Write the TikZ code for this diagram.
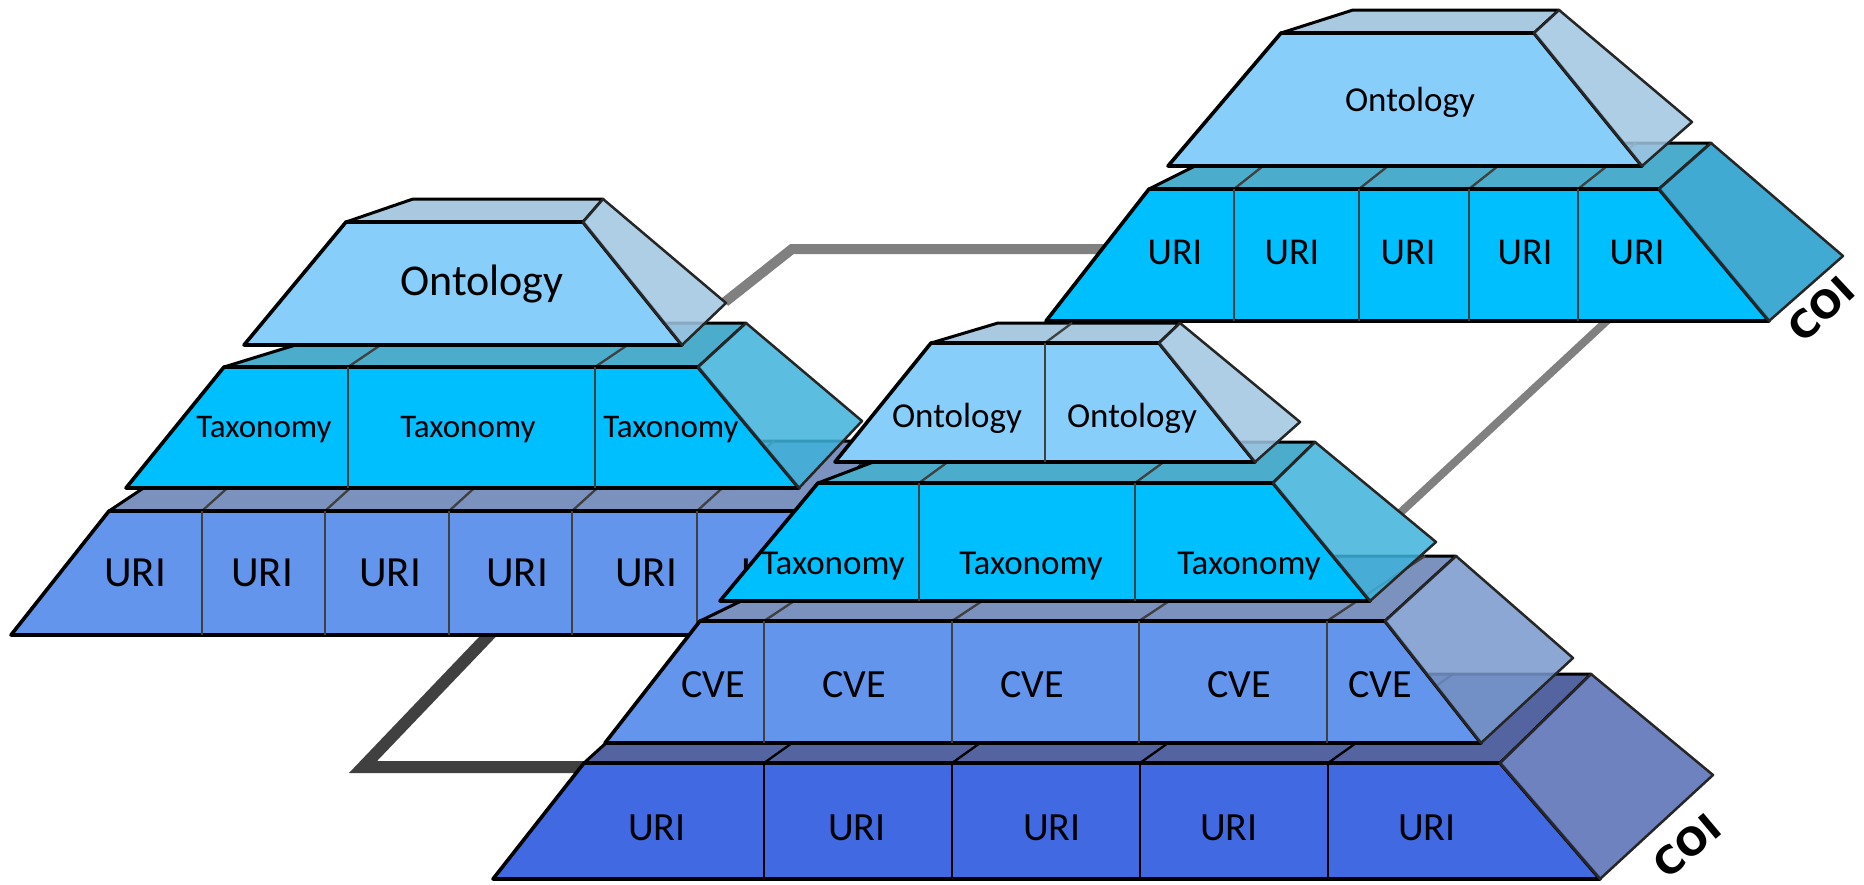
\documentclass[tikz,border=0pt]{standalone}
\usepackage{fontspec}
\setmainfont{Carlito}
\newfontfamily\coifont{DejaVu Sans}
% layer colours: F = front, T = top face, S = side face
\definecolor{ontF}{RGB}{135,206,250}
\definecolor{ontT}{RGB}{168,201,224}
\definecolor{ontS}{RGB}{160,197,226}
\definecolor{skyF}{RGB}{0,191,255}
\definecolor{skyT}{RGB}{75,172,204}
\definecolor{skyS}{RGB}{62,179,219}
\definecolor{skySd}{RGB}{31,155,202}
\definecolor{cvF}{RGB}{100,149,237}
\definecolor{cvT}{RGB}{123,145,190}
\definecolor{cvS}{RGB}{120,152,205}
\definecolor{roF}{RGB}{65,105,225}
\definecolor{roT}{RGB}{84,100,160}
\definecolor{roS}{RGB}{85,108,181}
\definecolor{linkgray}{RGB}{128,128,128}
\definecolor{linkdark}{RGB}{64,64,64}
\begin{document}
\begin{tikzpicture}[x=1pt,y=-1pt,
  frontface/.style={fill=#1,draw=black,line width=3.6pt,line join=round},
  topface/.style={fill=#1,draw=black,line width=3pt,line join=round},
  sideface/.style={fill=#1,fill opacity=0.85,draw=black!85,line width=2.5pt,line join=round},
  divline/.style={draw=black!75,line width=2.3pt},
  lbl/.style={anchor=base,inner sep=0pt,font=\fontsize{#1}{#1}\selectfont},
  coi/.style={inner sep=0pt,font=\coifont\bfseries\fontsize{38}{38}\selectfont},
  link/.style={draw=linkgray,line width=10pt,line join=miter},
  darklink/.style={draw=linkdark,line width=12pt,line join=miter}]
\useasboundingbox (0,0) rectangle (1864,884);

% ---------- connectors (behind the pyramids) ----------
\coordinate (l1a) at (725,302);
\coordinate (l1k) at (792,249);
\coordinate (l1c) at (1112,249);
\draw[link] (l1a) -- (l1k) -- (l1c);
\coordinate (l2c) at (1612,316);
\coordinate (l2b) at (1400,513);
\draw[link,line width=8pt] (l2c) -- (l2b);
\coordinate (l3a) at (494,630);
\coordinate (l3k) at (363,767);
\coordinate (l3b) at (594,767);
\draw[darklink] (l3a) -- (l3k) -- (l3b);

% ================= left pyramid =================
% URI layer
\path[topface=cvT] (109,511) -- (214,441) -- (885,441) -- (815,511) -- cycle;
\foreach \x in {202,325,449,572,697} \draw[divline] (\x,511) -- ++(77,-70);
\path[frontface=cvF] (109,511) -- (815,511) -- (915,635) -- (11,635) -- cycle;
\foreach \x in {202,325,449,572,697} \draw[divline] (\x,511) -- (\x,635);
\path[sideface=cvS] (815,511) -- (885,441) -- (990,560) -- (915,635) -- cycle;
\node[lbl=43] (auri1) at (135,586) {URI};
\node[lbl=43] (auri2) at (262,586) {URI};
\node[lbl=43] (auri3) at (390,586) {URI};
\node[lbl=43] (auri4) at (517,586) {URI};
\node[lbl=43] (auri5) at (646,586) {URI};
\node[lbl=43] (auri6) at (772,586) {URI};
% Taxonomy layer
\path[topface=skyT] (224,367) -- (367,323) -- (746,323) -- (698,367) -- cycle;
\foreach \x in {348,595} \draw[divline] (\x,367) -- ++(65,-44);
\path[frontface=skyF] (224,367) -- (698,367) -- (799,488) -- (126,488) -- cycle;
\foreach \x in {348,595} \draw[divline] (\x,367) -- (\x,488);
\path[sideface=skyS] (698,367) -- (746,323) -- (862,421) -- (799,488) -- cycle;
\node[lbl=33] (atax1) at (264,437) {Taxonomy};
\node[lbl=33] (atax2) at (468,437) {Taxonomy};
\node[lbl=33] (atax3) at (671,437) {Taxonomy};
% Ontology layer
\path[topface=ontT] (346,222) -- (413,199) -- (603,199) -- (583,222) -- cycle;
\path[frontface=ontF] (346,222) -- (583,222) -- (682,345) -- (244,345) -- cycle;
\path[sideface=ontS] (583,222) -- (603,199) -- (726,303) -- (682,345) -- cycle;
\node[lbl=44] (aont) at (482,295) {Ontology};

% ================= upper right pyramid =================
% URI layer
\path[topface=skyT] (1149,189) -- (1241,143) -- (1711,143) -- (1659,189) -- cycle;
\foreach \x in {1234,1359,1469,1578} \draw[divline] (\x,189) -- ++(58,-46);
\path[frontface=skyF] (1149,189) -- (1659,189) -- (1769,321) -- (1046,321) -- cycle;
\foreach \x in {1234,1359,1469,1578} \draw[divline] (\x,189) -- (\x,321);
\path[sideface=skySd] (1659,189) -- (1711,143) -- (1843,256) -- (1769,321) -- cycle;
\node[lbl=38] (curi1) at (1175,264) {URI};
\node[lbl=38] (curi2) at (1292,264) {URI};
\node[lbl=38] (curi3) at (1408,264) {URI};
\node[lbl=38] (curi4) at (1525,264) {URI};
\node[lbl=38] (curi5) at (1637,264) {URI};
% Ontology layer
\path[topface=ontT] (1281,33) -- (1353,10) -- (1559,10) -- (1534,33) -- cycle;
\path[frontface=ontF] (1281,33) -- (1534,33) -- (1642,166) -- (1168,166) -- cycle;
\path[sideface=ontS] (1534,33) -- (1559,10) -- (1692,122) -- (1642,166) -- cycle;
\node[lbl=35] (cont) at (1410,111) {Ontology};
\node[coi,rotate=43] (coiC) at (1821,309) {COI};

% ================= front pyramid =================
% URI layer
\path[topface=roT] (584,763) -- (682,674) -- (1591,674) -- (1500,763) -- cycle;
\foreach \x in {764,952,1140,1328} \draw[divline,black] (\x,763) -- ++(125,-89);
\path[frontface=roF] (584,763) -- (1500,763) -- (1600,879) -- (493,879) -- cycle;
\foreach \x in {764,952,1140,1328} \draw[divline,black] (\x,763) -- (\x,879);
\path[sideface=roS] (1500,763) -- (1591,674) -- (1713,775) -- (1600,879) -- cycle;
\node[lbl=40] (buri1) at (657,840) {URI};
\node[lbl=40] (buri2) at (857,840) {URI};
\node[lbl=40] (buri3) at (1052,840) {URI};
\node[lbl=40] (buri4) at (1229,840) {URI};
\node[lbl=40] (buri5) at (1427,840) {URI};
% CVE layer
\path[topface=cvT] (700,621) -- (834,556) -- (1456,556) -- (1385,621) -- cycle;
\foreach \x in {764,952,1139,1327} \draw[divline] (\x,621) -- ++(98,-65);
\path[frontface=cvF] (700,621) -- (1385,621) -- (1481,743) -- (605,743) -- cycle;
\foreach \x in {764,952,1139,1327} \draw[divline] (\x,621) -- (\x,743);
\path[sideface=cvS] (1385,621) -- (1456,556) -- (1573,658) -- (1481,743) -- cycle;
\node[lbl=40] (bcve1) at (713,697) {CVE};
\node[lbl=40] (bcve2) at (854,697) {CVE};
\node[lbl=40] (bcve3) at (1032,697) {CVE};
\node[lbl=40] (bcve4) at (1239,697) {CVE};
\node[lbl=40] (bcve5) at (1380,697) {CVE};
% Taxonomy layer
\path[topface=skyT] (818,483) -- (926,442) -- (1315,442) -- (1273,483) -- cycle;
\foreach \x in {919,1135} \draw[divline] (\x,483) -- ++(56,-41);
\path[frontface=skyF] (818,483) -- (1273,483) -- (1370,601) -- (720,601) -- cycle;
\foreach \x in {919,1135} \draw[divline] (\x,483) -- (\x,601);
\path[sideface=skyS] (1273,483) -- (1315,442) -- (1436,542) -- (1370,601) -- cycle;
\node[lbl=35] (btax1) at (833,574) {Taxonomy};
\node[lbl=35] (btax2) at (1031,574) {Taxonomy};
\node[lbl=35] (btax3) at (1249,574) {Taxonomy};
% Ontology layer
\path[topface=ontT] (931,343) -- (998,323) -- (1180,323) -- (1159,343) -- cycle;
\draw[divline] (1045,343) -- (1072,323);
\path[frontface=ontF] (931,343) -- (1159,343) -- (1255,462) -- (835,462) -- cycle;
\draw[divline] (1045,343) -- (1045,462);
\path[sideface=ontS] (1159,343) -- (1180,323) -- (1300,422) -- (1255,462) -- cycle;
\node[lbl=35] (bont1) at (957,427) {Ontology};
\node[lbl=35] (bont2) at (1132,427) {Ontology};
\node[coi,rotate=40] (coiB) at (1687,846) {COI};
\end{tikzpicture}
\end{document}
